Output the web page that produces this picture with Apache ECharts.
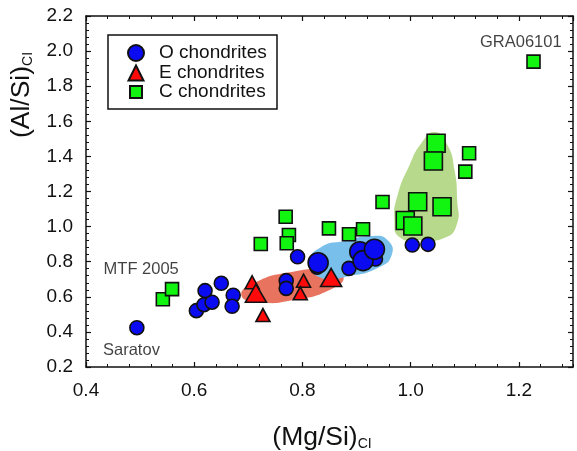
<!DOCTYPE html>
<html><head><meta charset="utf-8">
<script src="https://cdn.jsdelivr.net/npm/echarts/dist/echarts.min.js"></script>
<style>html,body{margin:0;padding:0;background:#fff;}#c{width:577px;height:451px;}</style>
</head><body><div id="c"></div>
<script>
// ---- data ----
const xTickLabels = ['0.4','0.6','0.8','1.0','1.2'];
const yTickLabels = ['0.2','0.4','0.6','0.8','1.0','1.2','1.4','1.6','1.8','2.0','2.2'];
// O chondrites (circles)
const oSmall = [[0.494,0.424],[0.604,0.521],[0.618,0.555],[0.633,0.569],[0.620,0.635],[0.650,0.677],[0.672,0.609],[0.670,0.546],[0.770,0.692],[0.770,0.648],[0.791,0.828],[0.827,0.768],[0.886,0.762],[0.935,0.815],[1.003,0.895],[1.032,0.899]];
const oLarge = [[0.829,0.794],[0.906,0.857],[0.912,0.806],[0.933,0.871]];
// E chondrites (triangles)
const eSmall = [[0.707,0.683],[0.727,0.496],[0.802,0.692],[0.796,0.620]];
const eLarge = [[0.714,0.620],[0.853,0.710]];
// C chondrites (squares)
const cSmall = [[0.542,0.586],[0.559,0.644],[0.723,0.901],[0.769,1.056],[0.775,0.952],[0.771,0.905],[0.849,0.990],[0.886,0.956],[0.912,0.985],[0.948,1.140],[1.108,1.418],[1.101,1.313],[1.227,1.940]];
const cLarge = [[0.990,1.035],[1.004,1.003],[1.013,1.142],[1.058,1.113],[1.047,1.475],[1.042,1.374]];
// shaded fields (outline vertices in data units)
const eField = [[0.876,0.713],[0.852,0.642],[0.786,0.583],[0.718,0.569],[0.687,0.610],[0.712,0.681],[0.777,0.740],[0.846,0.753]];
const oField = [[0.813,0.798],[0.835,0.884],[0.878,0.918],[0.928,0.946],[0.957,0.924],[0.965,0.838],[0.939,0.764],[0.887,0.719],[0.835,0.707]];
const cField = [[1.044,1.539],[1.068,1.465],[1.081,1.322],[1.086,1.152],[1.085,1.009],[1.062,0.935],[1.016,0.924],[0.979,0.941],[0.970,1.038],[0.976,1.180],[0.998,1.351],[1.020,1.476]];
// annotations
const annoText = ['GRA06101','MTF 2005','Saratov'];
const annoX = [1.2035, 0.502, 0.484];
const annoY = [2.052, 0.753, 0.292];

// ---- chart ----
const FONT = "'Liberation Sans', Arial, sans-serif";
const INK = '#111';
const chart = echarts.init(document.getElementById('c'), null, {renderer:'canvas'});

function field(pts, color){
  return {type:'custom', silent:true, z:1, xAxisIndex:0, yAxisIndex:0, data:[pts[0]],
    renderItem:(params, api)=>({type:'polygon', shape:{points: pts.map(p=>api.coord(p)), smooth:0.55}, style:{fill:color}})};
}
function sc(name, data, symbol, size, color, z){
  return {type:'scatter', name, data, symbol, symbolSize:size, z, xAxisIndex:0, yAxisIndex:0,
    itemStyle:{color, borderColor:'#111', borderWidth:1.6, opacity:1}, emphasis:{disabled:true}};
}
const base = {min:0.4, max:1.3};
const lineS = {show:true, onZero:false, lineStyle:{color:INK, width:1.5}};
const xMajor = (pos, labels)=>({type:'value', position:pos, ...base, interval:0.2,
  axisLine:lineS, splitLine:{show:false},
  axisTick:{show:true, inside:true, length:5, lineStyle:{color:INK, width:1.2}},
  axisLabel:{show:labels, fontSize:19, fontFamily:FONT, color:INK, margin:14, showMaxLabel:false,
    formatter:v=>{const s=v.toFixed(1); return xTickLabels.includes(s)?s:'';}}});
const xMinor = (pos)=>({type:'value', position:pos, ...base, interval:0.04,
  axisLine:{show:false}, splitLine:{show:false}, axisLabel:{show:false},
  axisTick:{show:true, inside:true, length:3, lineStyle:{color:INK, width:1}}});
const yAx = (pos, labels)=>({type:'value', position:pos, min:0.2, max:2.2, interval:0.2,
  axisLine:lineS, splitLine:{show:false},
  axisTick:{show:true, inside:true, length:5, lineStyle:{color:INK, width:1.2}},
  minorTick:{show:true, splitNumber:5, length:3, lineStyle:{color:INK, width:1}},
  axisLabel:{show:labels, fontSize:19, fontFamily:FONT, color:INK, margin:13,
    formatter:v=>{const s=v.toFixed(1); return yTickLabels.includes(s)?s:'';}}});

const legBase = {orient:'vertical', itemGap:0, padding:0, symbolKeepAspect:true, selectedMode:false};
const legText = (pl)=>({fontSize:19, fontFamily:FONT, color:INK, padding:[0,0,0,pl]});

chart.setOption({
  animation:false,
  backgroundColor:'#fff',
  grid:{left:86, right:4, top:16, bottom:84},
  xAxis:[xMajor('bottom', true), xMinor('bottom'), xMajor('top', false), xMinor('top')],
  yAxis:[yAx('left', true), yAx('right', false)],
  legend:[
    {...legBase, left:127, top:43.5, itemWidth:16, itemHeight:16, textStyle:legText(10), data:['O chondrites']},
    {...legBase, left:127.5, top:63.5, itemWidth:15, itemHeight:15, textStyle:legText(10.5), data:['E chondrites']},
    {...legBase, left:129, top:82.5, itemWidth:12, itemHeight:12, textStyle:legText(12), data:['C chondrites']}
  ],
  graphic:[
    {type:'rect', shape:{x:108, y:35, width:169, height:74}, style:{fill:'none', stroke:INK, lineWidth:1.5}, z:100},
    {type:'text', x:322, y:437, z:100, style:{text:'{a|(Mg/Si)}{b|CI}', align:'center', verticalAlign:'middle',
      textAlign:'center', textVerticalAlign:'middle',
      rich:{a:{fontSize:26.5, fontFamily:FONT, fill:INK, color:INK, lineHeight:28, verticalAlign:'bottom'},
            b:{fontSize:14, fontFamily:FONT, fill:INK, color:INK, lineHeight:6, verticalAlign:'bottom'}}}},
    {type:'text', x:21, y:95, rotation:Math.PI/2, z:100, style:{text:'{a|(Al/Si)}{b|CI}', align:'center', verticalAlign:'middle',
      textAlign:'center', textVerticalAlign:'middle',
      rich:{a:{fontSize:26.5, fontFamily:FONT, fill:INK, color:INK, lineHeight:28, verticalAlign:'bottom'},
            b:{fontSize:14, fontFamily:FONT, fill:INK, color:INK, lineHeight:6, verticalAlign:'bottom'}}}}
  ],
  series:[
    field(eField, '#E8735E'),
    field(oField, '#79BFEB'),
    field(cField, '#B7D98C'),
    sc('O chondrites', oSmall, 'circle', 14, '#0B0BF2', 3),
    sc('O chondrites', oLarge, 'circle', 20, '#0B0BF2', 3),
    sc('E chondrites', eSmall, 'triangle', [14,13], '#FF0A0A', 4),
    sc('E chondrites', eLarge, 'triangle', [21,18], '#FF0A0A', 4),
    sc('C chondrites', cSmall, 'rect', 13, '#11F511', 5),
    sc('C chondrites', cLarge, 'rect', 18, '#11F511', 5),
    {type:'scatter', silent:true, z:6, symbolSize:1, itemStyle:{color:'rgba(0,0,0,0)'},
     data: annoText.map((t,i)=>({name:t, value:[annoX[i], annoY[i]]})),
     label:{show:true, position:'inside', formatter:'{b}', fontSize:16.5, fontFamily:FONT, color:INK}}
  ]
});
</script></body></html>
